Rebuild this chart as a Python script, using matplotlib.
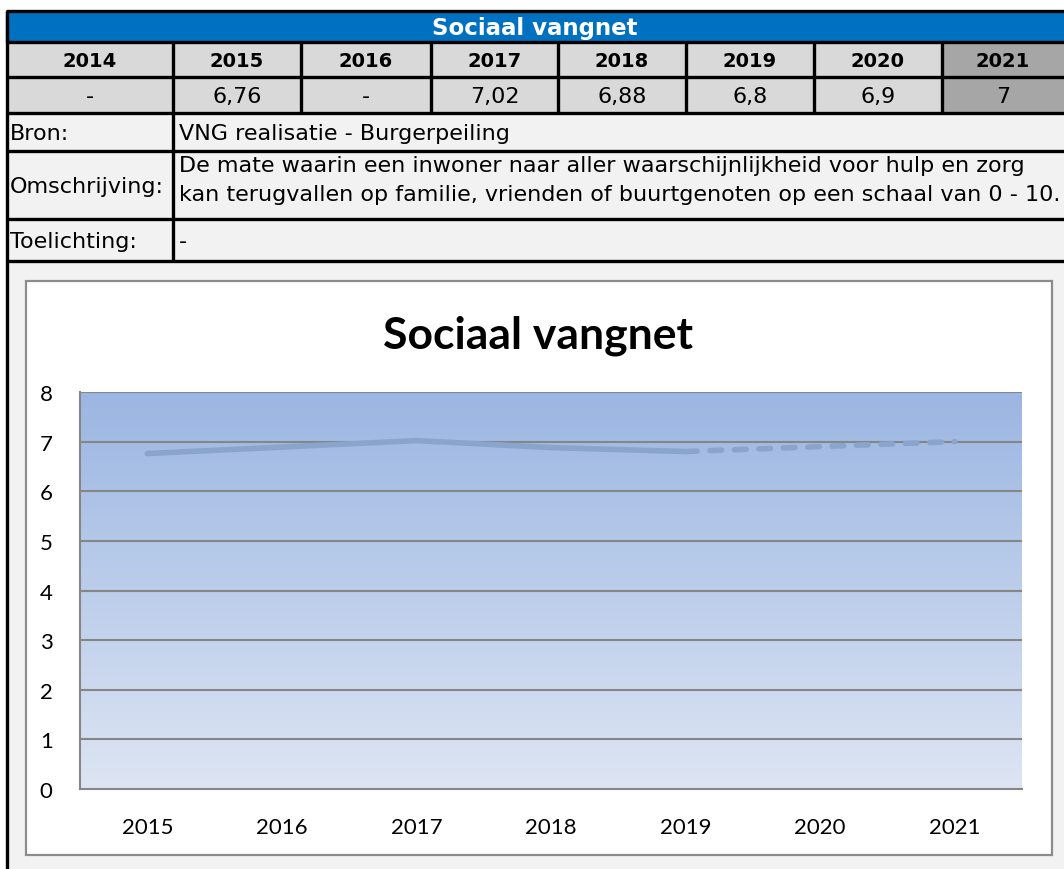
import numpy as np
import matplotlib.pyplot as plt
from matplotlib.patches import Rectangle

years = ['2014', '2015', '2016', '2017', '2018', '2019', '2020', '2021']
table_values = ['-', '6,76', '-', '7,02', '6,88', '6,8', '6,9', '7']
bron = 'VNG realisatie - Burgerpeiling'
omschrijving = ['De mate waarin een inwoner naar aller waarschijnlijkheid voor hulp en zorg',
                'kan terugvallen op familie, vrienden of buurtgenoten op een schaal van 0 - 10.']
toelichting = '-'

chart_years = ['2015', '2016', '2017', '2018', '2019', '2020', '2021']
realisatie = [6.76, None, 7.02, 6.88, 6.8, None, None]
prognose = [None, None, None, None, 6.8, 6.9, 7.0]

W, H = 1064, 870
fig = plt.figure(figsize=(W / 100, H / 100), dpi=100)

# canvas in pixel coordinates for the table part
bg = fig.add_axes([0, 0, 1, 1])
bg.set_xlim(0, W)
bg.set_ylim(H, 0)
bg.axis('off')

TF = 'DejaVu Sans'
cols = [7, 173, 301, 431, 558, 686, 814, 942, W + 5]
rows = [12, 43, 78, 114, 152, 220, 262]

bg.add_patch(Rectangle((6, rows[-1]), W, H, color='#f2f2f2', zorder=0))
bg.add_patch(Rectangle((6, rows[0]), W, rows[1] - rows[0], color='#0070c0', zorder=1))
bg.text((6 + W) / 2, (rows[0] + rows[1]) / 2 + 1, 'Sociaal vangnet', color='white',
        fontsize=16.5, fontweight='bold', family=TF, ha='center', va='center')
for i, (y, v) in enumerate(zip(years, table_values)):
    c = '#a6a6a6' if i == len(years) - 1 else '#d9d9d9'
    bg.add_patch(Rectangle((cols[i], rows[1]), cols[i + 1] - cols[i], rows[3] - rows[1], color=c, zorder=1))
    xm = (cols[i] + min(cols[i + 1], W)) / 2
    bg.text(xm, (rows[1] + rows[2]) / 2 + 1, y, fontsize=14, fontweight='bold', family=TF,
            ha='center', va='center')
    bg.text(xm, (rows[2] + rows[3]) / 2 + 1, v, fontsize=16, family=TF, ha='center', va='center')
bg.add_patch(Rectangle((6, rows[3]), W, rows[6] - rows[3], color='#f2f2f2', zorder=1))

labels = ['Bron:', 'Omschrijving:', 'Toelichting:']
for k in range(3):
    y0, y1 = rows[3 + k], rows[4 + k]
    bg.text(10, (y0 + y1) / 2 + 1, labels[k], fontsize=16, family=TF, ha='left', va='center')
bg.text(cols[1] + 6, (rows[3] + rows[4]) / 2 + 1, bron, fontsize=16, family=TF, ha='left', va='center')
for j, t in enumerate(omschrijving):
    bg.text(cols[1] + 6, rows[4] + 14 + 29 * j, t, fontsize=16, family=TF, ha='left', va='center')
bg.text(cols[1] + 6, (rows[5] + rows[6]) / 2 + 1, toelichting, fontsize=16, family=TF,
        ha='left', va='center')

lw = 2.4
for y in rows:
    bg.plot([6, W], [y, y], color='black', lw=lw, zorder=3, solid_capstyle='butt')
bg.plot([7, 7], [rows[0], H], color='black', lw=lw, zorder=3, solid_capstyle='butt')
for x in cols[1:-1]:
    bg.plot([x, x], [rows[1], rows[3]], color='black', lw=lw, zorder=3, solid_capstyle='butt')
bg.plot([cols[1], cols[1]], [rows[3], rows[6]], color='black', lw=lw, zorder=3, solid_capstyle='butt')

# white chart box
bg.add_patch(Rectangle((26, 282), 1052 - 26, 856 - 282, facecolor='white',
                       edgecolor='#8c8c8c', lw=1.6, zorder=2))
bg.text(538, 336, 'Sociaal vangnet', fontsize=32, fontweight='bold', family='Lato',
        ha='center', va='center', zorder=4)

# chart
px0, px1, py0, py1 = 80, 1022, 393, 790
ax = fig.add_axes([px0 / W, 1 - py1 / H, (px1 - px0) / W, (py1 - py0) / H])
ax.set_zorder(5)
ax.patch.set_alpha(0)
x = np.arange(len(chart_years))
ax.set_xlim(-0.5, len(chart_years) - 0.5)
ax.set_ylim(0, 8)

grad = np.linspace(0, 1, 256).reshape(-1, 1)
top = np.array([0x9b, 0xb6, 0xe2]) / 255
bot = np.array([0xdd, 0xe5, 0xf3]) / 255
img = top + (bot - top) * grad[:, :, None]
ax.imshow(img, extent=(-0.5, len(chart_years) - 0.5, 0, 8), aspect='auto', origin='upper', zorder=0)

for g in range(1, 9):
    ax.axhline(g, color='#868686', lw=1.5, zorder=1)

rx = [i for i, v in enumerate(realisatie) if v is not None]
ry = [v for v in realisatie if v is not None]
ax.plot(rx, ry, color='#8aa4cc', lw=4, solid_capstyle='round', zorder=3)
dx = [i for i, v in enumerate(prognose) if v is not None]
dy = [v for v in prognose if v is not None]
ax.plot(dx, dy, color='#8aa4cc', lw=4, dashes=(2.1, 2.3), dash_capstyle='round', zorder=3)

for s in ['top', 'right']:
    ax.spines[s].set_visible(False)
for s in ['left', 'bottom']:
    ax.spines[s].set_color('#868686')
    ax.spines[s].set_linewidth(1.5)
ax.set_xticks(x)
ax.set_xticklabels(chart_years)
ax.set_yticks(range(0, 9))
ax.tick_params(length=0, labelsize=16)
ax.tick_params(axis='x', pad=20)
ax.tick_params(axis='y', pad=29)
for t in ax.get_xticklabels() + ax.get_yticklabels():
    t.set_family('Lato')
for t in ax.get_yticklabels():
    t.set_ha('left')

fig.savefig('out.png', dpi=100)
